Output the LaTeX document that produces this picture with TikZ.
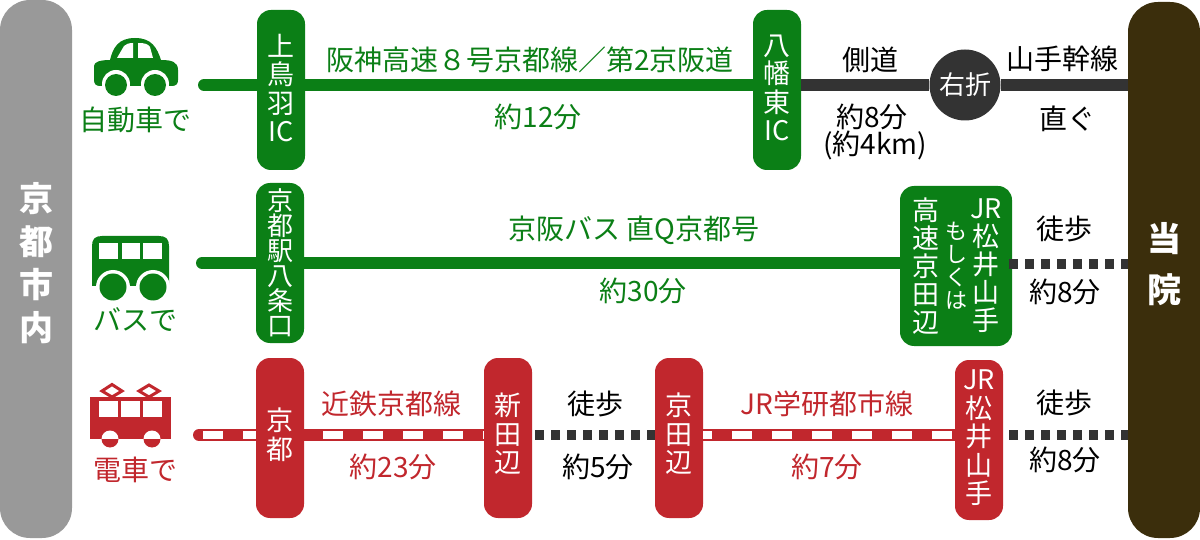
\documentclass[tikz,border=0pt]{standalone}
\usepackage{fontspec}
\setmainfont{Noto Sans CJK JP}
\usetikzlibrary{positioning,calc}
\definecolor{carGreen}{HTML}{0B7F16}
\definecolor{trainRed}{HTML}{C1272D}
\definecolor{roadDark}{HTML}{333333}
\definecolor{hospBrown}{HTML}{3B2E0C}
\definecolor{cityGray}{HTML}{999999}
\newcommand{\labelsize}{\fontsize{28}{32}\selectfont}
\newcommand{\stopsize}{\fontsize{27}{28.5}\selectfont}

\begin{document}
\begin{tikzpicture}[x=1pt,y=-1pt]
\tikzstyle{stopbox}=[rectangle, rounded corners=14pt, minimum width=48pt, minimum height=160pt, inner sep=0pt];
\tikzstyle{greenstop}=[stopbox, fill=carGreen];
\tikzstyle{redstop}=[stopbox, fill=trainRed];
\tikzstyle{stoptxt}=[inner sep=0pt, text=white, align=center, font=\stopsize];
\tikzstyle{endbar}=[rectangle, rounded corners=30pt, minimum width=72pt, inner sep=0pt];
\tikzstyle{lbl}=[inner sep=0pt, font=\labelsize];
\tikzstyle{greenlbl}=[lbl, text=carGreen];
\tikzstyle{redlbl}=[lbl, text=trainRed];
\tikzstyle{walk}=[roadDark, line width=10pt, dash pattern=on 9pt off 7pt];
\tikzstyle{tie}=[white, line width=8pt, dash pattern=on 20pt off 20pt];
\useasboundingbox (0,0) rectangle (1200,540);

  % end bars
  \node (city) at (36,269) [endbar, fill=cityGray, minimum height=538pt]{};
  \node (clinic) at (1164,270) [endbar, fill=hospBrown, minimum height=536pt]{};
  \node (citytxt) at (36.5,263) [stoptxt, font=\fontsize{34}{43}\selectfont\bfseries]{京\\都\\市\\内};
  \node (clinictxt) at (1164,264) [stoptxt, font=\fontsize{34}{51}\selectfont\bfseries]{当\\院};

  % car
  \fill[carGreen] (94,66) .. controls (94,62) and (100,60) .. (110,60)
    .. controls (113,48) and (118,38) .. (135,38) .. controls (152,38) and (157,48) .. (161,60)
    .. controls (172,60) and (178,62) .. (178,70) -- (178,80) .. controls (178,84) and (176,86) .. (172,86)
    -- (100,86) .. controls (96,86) and (94,84) .. (94,80) -- cycle;
  \fill[white] (117,58) -- (124,46) .. controls (126,44) and (129,43) .. (133,43) -- (133,58) -- cycle;
  \fill[white] (138,43) .. controls (145,43) and (148,44) .. (150,47) -- (153,58) -- (138,58) -- cycle;
  \fill[white] (116,84) circle (14) (155,84) circle (14);
  \fill[carGreen] (116,85) circle (11) (155,85) circle (11);
  \node (carlbl) at (135,120) [greenlbl]{自動車で};

  % bus
  \fill[carGreen] (92,286) -- (92,246) .. controls (92,239) and (95,236) .. (102,236)
    -- (159,236) .. controls (166,236) and (169,239) .. (169,246) -- (169,286) -- cycle;
  \foreach \wx/\ww in {99/19,122/18,143/19}
    \fill[white] (\wx,243) rectangle ++(\ww,16);
  \fill[white] (113,287) circle (17) (153,287) circle (17);
  \fill[white] (90,286.5) rectangle (171,304);
  \fill[carGreen] (113,287) circle (13.5) (153,287) circle (13.5);
  \node (buslbl) at (135,320) [greenlbl]{バスで};

  % train
  \draw[trainRed, line width=3pt] (112,384.5) -- (122,391) -- (112,397) -- (102,391) -- cycle;
  \draw[trainRed, line width=3pt] (149,385) -- (159,391) -- (149,397) -- (139,391) -- cycle;
  \fill[trainRed] (90,397) rectangle (171,439);
  \foreach \wx/\ww in {99/19,121/19,143/19}
    \fill[white] (\wx,401) rectangle ++(\ww,16);
  \foreach \wx in {110,152} {
    \fill[white] (\wx-8.5,439) arc (180:360:8.5) -- cycle;
    \fill[trainRed] (\wx-8.5,439) arc (180:0:8.5) -- cycle;
  }
  \node (trainlbl) at (135,470) [redlbl]{電車で};

  % stops
  \node (toba) at (281,90) [greenstop]{};
  \node (yawata) at (777,90) [greenstop]{};
  \node (hachijo) at (280,263) [greenstop]{};
  \node (jrbox) at (956,266) [greenstop, minimum width=112pt]{};
  \node (kyoto) at (280,438) [redstop]{};
  \node (shinta) at (508,438) [redstop]{};
  \node (kyotana) at (679,438) [redstop]{};
  \node (matsui) at (979,440) [redstop]{};
  \node (turn) at (965,85) [circle, fill=roadDark, minimum size=71pt, inner sep=0pt, text=white, font=\fontsize{26}{30}\selectfont]{右折};

  \node (tobatxt) at (281,88) [stoptxt]{上\\鳥\\羽\\IC};
  \node (yawatatxt) at (777,88) [stoptxt]{八\\幡\\東\\IC};
  \node (hachijotxt) at (280,263) [stoptxt, font=\fontsize{26}{25}\selectfont]{京\\都\\駅\\八\\条\\口};
  \node (jrcol) at (986,266) [stoptxt, font=\fontsize{27}{28}\selectfont]{JR\\松\\井\\山\\手};
  \node (orcol) at (956,266) [stoptxt, font=\fontsize{22}{23}\selectfont]{も\\し\\く\\は};
  \node (kocol) at (926,266) [stoptxt, font=\fontsize{27}{28}\selectfont]{高\\速\\京\\田\\辺};
  \node (kyototxt) at (280,434.5) [stoptxt]{京\\都};
  \node (shintatxt) at (508,434) [stoptxt]{新\\田\\辺};
  \node (kyotanatxt) at (679,434) [stoptxt]{京\\田\\辺};
  \node (matsuitxt) at (979,438) [stoptxt]{JR\\松\\井\\山\\手};

  % connectors
  \coordinate (carstart) at (204,85);
  \coordinate (busstart) at (202,263);
  \coordinate (walkrow) at (1128,264);
  \coordinate (trainstart) at (199,435);
  \draw[carGreen, line width=12pt, line cap=round] (carstart) -- (carstart -| toba.west);
  \draw[carGreen, line width=12pt] (carstart -| toba.east) -- (carstart -| yawata.west);
  \draw[roadDark, line width=12pt] (carstart -| yawata.east) -- (carstart -| turn.west);
  \draw[roadDark, line width=12pt] (carstart -| turn.east) -- (carstart -| clinic.west);
  \draw[carGreen, line width=12pt, line cap=round] (busstart) -- (busstart -| hachijo.west);
  \draw[carGreen, line width=12pt] (busstart -| hachijo.east) -- (busstart -| jrbox.west);
  \draw[walk] ($(jrbox.east |- walkrow)+(-3,0)$) -- (walkrow -| clinic.west);

  \draw[trainRed, line width=12pt, line cap=round] (trainstart) -- (trainstart -| kyoto.west);
  \draw[tie] ($(trainstart)+(4,0)$) -- (trainstart -| kyoto.west);
  \draw[trainRed, line width=12pt] (trainstart -| kyoto.east) -- (trainstart -| shinta.west);
  \draw[tie] ($(trainstart -| kyoto.east)+(19,0)$) -- (trainstart -| shinta.west);
  \draw[walk] ($(trainstart -| shinta.east)+(3,0)$) -- (trainstart -| kyotana.west);
  \draw[trainRed, line width=12pt] (trainstart -| kyotana.east) -- (trainstart -| matsui.west);
  \draw[tie, dash phase=11pt] (trainstart -| kyotana.east) -- (trainstart -| matsui.west);
  \draw[walk] ($(trainstart -| matsui.east)+(6,0)$) -- (trainstart -| clinic.west);

  % labels
  \node (hanshin) at (530,60) [greenlbl]{阪神高速８号京都線／第2京阪道};
  \node (t12) at (538,117) [greenlbl]{約12分};
  \node (sokudo) at (870,60) [lbl]{側道};
  \node (t8) at (872,117) [lbl]{約8分};
  \node (km4) at (875,145) [lbl]{(約4km)};
  \node (yamate) at (1062,59) [lbl]{山手幹線};
  \node (sugu) at (1067,119) [lbl]{直ぐ};

  \node (keihan) at (634,230) [greenlbl]{京阪バス 直Q京都号};
  \node (t30) at (643,291) [greenlbl]{約30分};
  \node (walk1) at (1064,229) [lbl]{徒歩};
  \node (t8b) at (1065,292) [lbl]{約8分};

  \node (kintetsu) at (391,404) [redlbl]{近鉄京都線};
  \node (t23) at (393,467) [redlbl]{約23分};
  \node (walk2) at (595,404) [lbl]{徒歩};
  \node (t5) at (598,467) [lbl]{約5分};
  \node (gakken) at (827,404) [redlbl]{JR学研都市線};
  \node (t7) at (827,467) [redlbl]{約7分};
  \node (walk3) at (1064,403) [lbl]{徒歩};
  \node (t8c) at (1065,460) [lbl]{約8分};
\end{tikzpicture}
\end{document}
